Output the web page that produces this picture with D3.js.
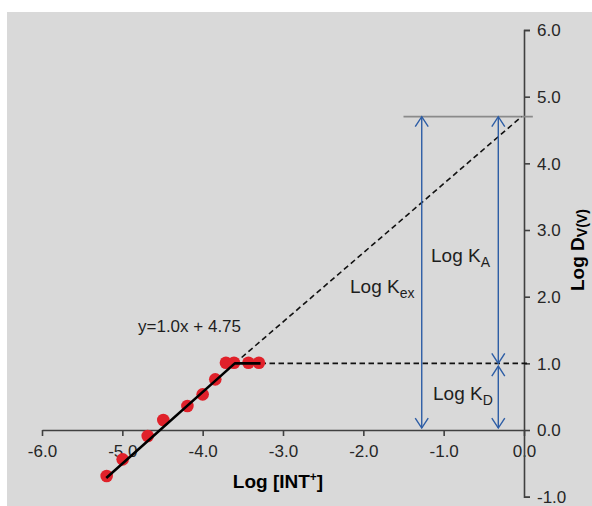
<!DOCTYPE html>
<html><head><meta charset="utf-8">
<script src="https://cdn.jsdelivr.net/npm/d3@7"></script>
<style>body{margin:0;background:#fff}svg{display:block;font-family:"Liberation Sans",Arial,sans-serif}</style>
</head><body><svg id="c" width="592" height="506"></svg>
<script>
// ---- data ----
const pointX = [-5.195, -4.996, -4.684, -4.49, -4.19, -4.0, -3.843, -3.71, -3.61, -3.43, -3.30];
const pointY = [-0.69, -0.44, -0.09, 0.15, 0.36, 0.535, 0.76, 1.01, 1.01, 1.01, 1.01];
const fitX = [-5.2, -3.6, -3.28];
const fitY = [-0.72, 1.0, 1.0];
const extX = [-3.6, -0.03];
const extY = [1.0, 4.7];
const plateauX = [-3.28, 0.07];
const plateauY = [1.0, 1.0];
const refLineX = [-1.5, 0.11];
const refLineY = [4.7, 4.7];
const arrowKexX = -1.273, arrowKexY = [4.7, 0.03];
const arrowKaX = -0.32, arrowKaY = [4.7, 1.0];
const arrowKdY = [0.96, 0.03];
const xTicks = [-6, -5, -4, -3, -2, -1, 0];
const yTicks = [-1, 0, 1, 2, 3, 4, 5, 6];
const eqLabel = "y=1.0x + 4.75";

// ---- scales ----
const x = d3.scaleLinear().domain([-6, 0]).range([42, 524]);
const y = d3.scaleLinear().domain([-1, 6]).range([496.7, 30]);
const svg = d3.select("#c");

svg.append("rect").attr("x", 7).attr("y", 12).attr("width", 585).attr("height", 494).attr("fill", "#d9d9d9");

const fmt = v => v.toFixed(1);
const axCol = "#404040";
// x axis
const gx = svg.append("g").attr("transform", `translate(0,${y(0)})`)
  .call(d3.axisBottom(x).tickValues(xTicks).tickFormat(fmt).tickSize(6).tickSizeOuter(0));
gx.select(".domain").attr("stroke", axCol).attr("stroke-width", 1.6);
gx.selectAll(".tick line").attr("stroke", axCol).attr("stroke-width", 1.6);
gx.selectAll(".tick text").attr("font-size", 17).attr("fill", "#262626").attr("font-family", "Liberation Sans, Arial, sans-serif").attr("y", 0).attr("dy", "26.5");
// y axis
const gy = svg.append("g").attr("transform", `translate(${x(0)},0)`)
  .call(d3.axisRight(y).tickValues(yTicks).tickFormat(fmt).tickSize(6).tickSizeOuter(6));
gy.select(".domain").attr("stroke", axCol).attr("stroke-width", 1.6);
gy.selectAll(".tick line").attr("stroke", axCol).attr("stroke-width", 1.6);
gy.selectAll(".tick text").attr("font-size", 17).attr("fill", "#262626").attr("font-family", "Liberation Sans, Arial, sans-serif").attr("x", 13).attr("dy", "0.35em");

// reference gray line
const line = d3.line().x(d => x(d[0])).y(d => y(d[1]));
const zip = (a, b) => a.map((v, i) => [v, b[i]]);
svg.append("path").attr("d", line(zip(refLineX, refLineY))).attr("stroke", "#8a8a8a").attr("stroke-width", 1.6).attr("fill", "none");

// dashed lines
svg.append("path").attr("d", line(zip(extX, extY))).attr("stroke", "#111").attr("stroke-width", 1.6).attr("stroke-dasharray", "5.5,3.5").attr("fill", "none");
svg.append("path").attr("d", line(zip(plateauX, plateauY))).attr("stroke", "#111").attr("stroke-width", 1.6).attr("stroke-dasharray", "5.5,3.5").attr("fill", "none");

// blue arrows
const blue = "#2d5da5";
function arrow(xv, y1, y2, g) {
  const px = x(xv), a = y(y1), b = y(y2);
  g.append("line").attr("x1", px).attr("x2", px).attr("y1", a).attr("y2", b).attr("stroke", blue).attr("stroke-width", 1.4);
  const hw = 6.5, hl = 10;
  const dirA = a < b ? 1 : -1;
  g.append("path").attr("d", `M${px - hw},${a + dirA * hl}L${px},${a}L${px + hw},${a + dirA * hl}`).attr("stroke", blue).attr("stroke-width", 1.4).attr("fill", "none");
  g.append("path").attr("d", `M${px - hw},${b - dirA * hl}L${px},${b}L${px + hw},${b - dirA * hl}`).attr("stroke", blue).attr("stroke-width", 1.4).attr("fill", "none");
}
const ga = svg.append("g");
arrow(arrowKexX, arrowKexY[0], arrowKexY[1], ga);
arrow(arrowKaX, arrowKaY[0], arrowKaY[1], ga);
arrow(arrowKaX, arrowKdY[0], arrowKdY[1], ga);

// points
svg.append("g").selectAll("circle").data(zip(pointX, pointY)).join("circle")
  .attr("cx", d => x(d[0])).attr("cy", d => y(d[1])).attr("r", 6.3).attr("fill", "#e0212a");

// fit line
svg.append("path").attr("d", line(zip(fitX, fitY))).attr("stroke", "#000").attr("stroke-width", 2.6).attr("fill", "none").attr("stroke-linejoin", "round");

// text
const txtCol = "#1e1e1e";
svg.append("text").attr("x", 138).attr("y", 332).attr("font-size", 17).attr("fill", txtCol).text(eqLabel);

function klabel(xp, yp, sub) {
  const t = svg.append("text").attr("x", xp).attr("y", yp).attr("font-size", 19).attr("fill", txtCol);
  t.append("tspan").text("Log K");
  t.append("tspan").attr("font-size", 14).attr("dy", 5).text(sub);
}
klabel(350, 293, "ex");
klabel(431, 262, "A");
klabel(433, 400, "D");

// axis titles
const xt = svg.append("text").attr("x", 278).attr("y", 488).attr("text-anchor", "middle").attr("font-size", 19).attr("font-weight", "bold").attr("fill", "#000");
xt.append("tspan").text("Log [INT");
xt.append("tspan").attr("font-size", 12).attr("dy", -7).text("+");
xt.append("tspan").attr("dy", 7).text("]");

const yt = svg.append("text").attr("transform", "translate(584,291) rotate(-90)").attr("font-size", 19).attr("font-weight", "bold").attr("fill", "#000");
yt.append("tspan").text("Log D");
yt.append("tspan").attr("font-size", 14).attr("dy", 2.5).text("V(V)");
</script></body></html>
